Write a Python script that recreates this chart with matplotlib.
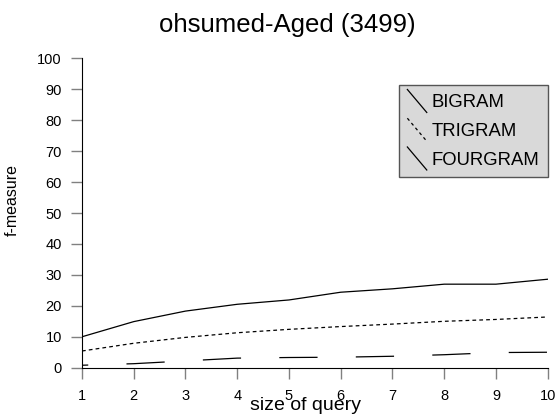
import matplotlib
matplotlib.use("Agg")
import matplotlib.pyplot as plt
from matplotlib.lines import Line2D
from matplotlib.legend_handler import HandlerBase

plt.rcParams['font.family'] = ['Liberation Sans', 'DejaVu Sans']

query_size = [1, 2, 3, 4, 5, 6, 7, 8, 9, 10]
bigram = [10.0, 14.9, 18.3, 20.5, 21.9, 24.4, 25.5, 27.0, 27.0, 28.6]
trigram = [5.4, 7.9, 9.8, 11.3, 12.4, 13.3, 14.1, 15.0, 15.6, 16.4]
fourgram = [0.8, 1.3, 2.2, 3.1, 3.3, 3.4, 3.7, 4.2, 4.9, 5.0]
y_ticks = [0, 10, 20, 30, 40, 50, 60, 70, 80, 90, 100]


class DiagHandler(HandlerBase):
    # legend sample drawn as a short "\" stroke
    def create_artists(self, legend, orig, xdescent, ydescent, width, height,
                       fontsize, trans):
        ln = Line2D([0, 1], [0, 1])
        ln.update_from(orig)
        ln.set_data([-xdescent, -xdescent + width],
                    [-ydescent + height * 1.25, -ydescent - height * 0.25])
        if orig.get_label() == 'TRIGRAM':
            ln.set_dashes((2.5, 2.5))
        else:
            ln.set_linestyle('-')
        ln.set_transform(trans)
        return [ln]


fig = plt.figure(figsize=(5.57, 4.18), dpi=100)
ax = fig.add_axes([0.1472, 0.1203, 0.8361, 0.7402])

l1, = ax.plot(query_size, bigram, color='black', lw=0.9, label='BIGRAM')
l2, = ax.plot(query_size, trigram, color='black', lw=0.9, dashes=(3, 2.5), label='TRIGRAM')
l3, = ax.plot(query_size, fourgram, color='black', lw=0.9,
              linestyle=(25.6, (30.6, 30.6)), label='FOURGRAM')

ax.set_xlim(1, 10)
ax.set_ylim(0, 100)
ax.set_xticks(query_size)
ax.set_yticks(y_ticks)
ax.spines['top'].set_visible(False)
ax.spines['right'].set_visible(False)
ax.tick_params(axis='both', direction='out', length=8, width=1, color='#808080',
               labelsize=10.5, pad=6.5)
ax.tick_params(axis='x', pad=7)

fig.text(0.516, (418 - 25) / 418, 'ohsumed-Aged (3499)', fontsize=18.5,
         ha='center', va='center')
ax.set_xlabel('size of query', fontsize=14, va='center')
ax.xaxis.set_label_coords(0.48, -0.122)
ax.set_ylabel('f-measure', fontsize=11.5, va='center')
ax.yaxis.set_label_coords(-0.15, 0.543)

fig.legend(handles=[l1, l2, l3], loc='upper right',
           bbox_to_anchor=(548 / 557, (418 - 85) / 418), bbox_transform=fig.transFigure,
           borderaxespad=0, fancybox=False, facecolor='#d9d9d9', edgecolor='#555555',
           framealpha=1, fontsize=13.3, handlelength=1.05, handleheight=0.9,
           handletextpad=0.28, labelspacing=0.58, borderpad=0.45,
           handler_map={Line2D: DiagHandler()})

fig.savefig('out.png', dpi=100)
